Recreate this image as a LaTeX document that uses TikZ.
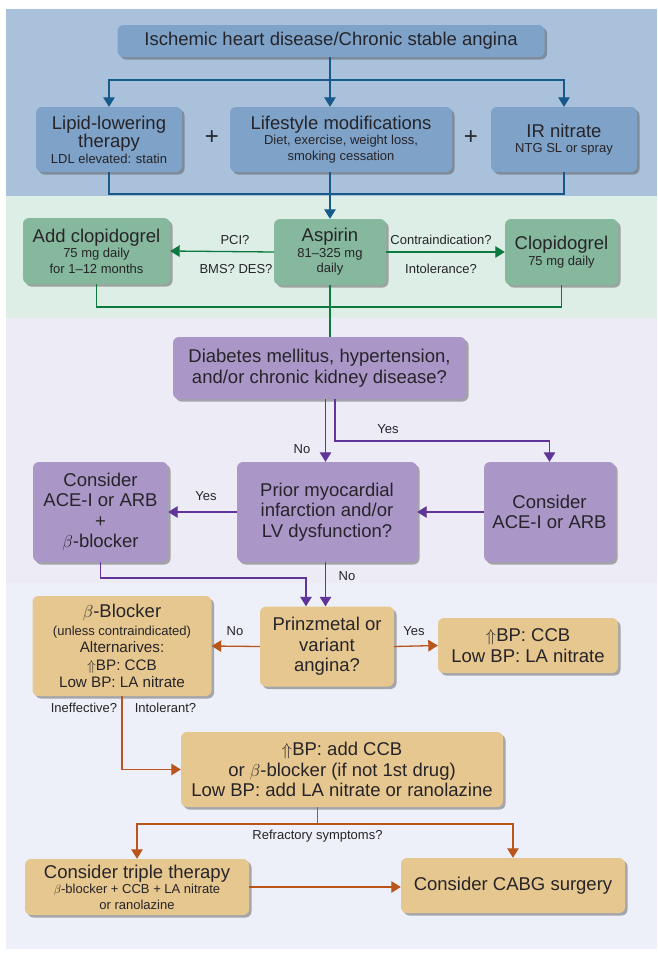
\documentclass[tikz,border=0pt]{standalone}
\usepackage{fontspec}
\setmainfont{Liberation Sans}
\usepackage{amsmath, amssymb}
\usetikzlibrary{shapes, arrows.meta, positioning, shadows}

\definecolor{bluepanel}{RGB}{169, 193, 219}
\definecolor{bluebox}{RGB}{126, 162, 200}
\definecolor{blueline}{RGB}{23, 89, 138}
\definecolor{greenpanel}{RGB}{220, 238, 230}
\definecolor{greenbox}{RGB}{134, 184, 157}
\definecolor{greenline}{RGB}{12, 122, 62}
\definecolor{purppanel}{RGB}{236, 235, 246}
\definecolor{purpbox}{RGB}{170, 151, 200}
\definecolor{purpline}{RGB}{96, 52, 152}
\definecolor{tanpanel}{RGB}{237, 240, 248}
\definecolor{tanbox}{RGB}{230, 199, 143}
\definecolor{orangeline}{RGB}{186, 84, 26}
\definecolor{inkgray}{RGB}{38, 36, 40}

\newcommand{\bigtxt}{\fontsize{18.5}{20.5}\selectfont}
\newcommand{\midtxt}{\fontsize{15.2}{17.4}\selectfont}
\newcommand{\smalltxt}{\fontsize{13}{15.5}\selectfont}

\begin{document}
\begin{tikzpicture}[x=1pt, y=-1pt,
    box/.style={rounded corners=6pt, align=center, text=inkgray, inner sep=2pt,
      drop shadow={shadow xshift=2.5pt, shadow yshift=-2.5pt, opacity=0.45, fill=black!70}},
    bbox/.style={box, fill=bluebox},
    gbox/.style={box, fill=greenbox},
    pbox/.style={box, fill=purpbox},
    tbox/.style={box, fill=tanbox},
    tip/.style={-{Triangle[length=9.5pt, width=11.5pt]}},
    bline/.style={blueline, line width=1.3pt},
    gline/.style={greenline, line width=1.3pt},
    pline/.style={purpline, line width=1.3pt},
    oline/.style={orangeline, line width=1.3pt},
    lab/.style={font=\smalltxt, text=inkgray, inner sep=1pt}]

  \useasboundingbox (0,0) rectangle (657,953);

  % Background bands
  \fill[bluepanel] (6,9) rectangle (657,196);
  \fill[greenpanel] (6,196) rectangle (657,318);
  \fill[purppanel] (6,318) rectangle (657,583);
  \fill[tanpanel] (6,583) rectangle (657,949);

  % Blue band: starting point and first measures
  \node[bbox, font=\bigtxt, minimum width=427, minimum height=32] (ihd) at (331,41)
    {Ischemic heart disease/Chronic stable angina};

  \node[bbox, font=\smalltxt, minimum width=146, minimum height=65] (lipid) at (109,139.5)
    {\bigtxt Lipid-lowering\\\bigtxt therapy\\LDL elevated: statin};
  \node[bbox, font=\smalltxt, minimum width=222, minimum height=65] (life) at (341,139.5)
    {\bigtxt Lifestyle modifications\\Diet, exercise, weight loss,\\smoking cessation};
  \node[bbox, font=\smalltxt, minimum width=146, minimum height=65] (irnit) at (564,139.5)
    {\bigtxt IR nitrate\\NTG SL or spray};

  \node[font=\fontsize{24}{24}\selectfont, text=inkgray] (plus1) at (212,138) {+};
  \node[font=\fontsize{24}{24}\selectfont, text=inkgray] (plus2) at (471,138) {+};

  \coordinate (split1) at (330,80);
  \coordinate (merge1) at (330,194);

  \draw[bline] (ihd.south -| split1) -- (split1);
  \draw[bline, tip] (split1) -| (lipid.north);
  \draw[bline, tip] (split1) -- (split1 |- life.north);
  \draw[bline, tip] (split1) -| (irnit.north);
  \draw[bline] (lipid.south) |- (merge1) -| (irnit.south);

  % Green band: antiplatelet
  \node[gbox, font=\smalltxt, minimum width=112, minimum height=66] (aspirin) at (330,252)
    {\bigtxt Aspirin\\81--325 mg\\daily};
  \node[gbox, font=\smalltxt, minimum width=147, minimum height=66] (addclop) at (96.5,251)
    {\bigtxt Add clopidogrel\\75 mg daily\\for 1--12 months};
  \node[gbox, font=\smalltxt, minimum width=113, minimum height=66] (clop) at (561.5,252)
    {\bigtxt Clopidogrel\\75 mg daily};

  \draw[bline, tip] (life.south -| aspirin) -- (aspirin.north);

  \draw[gline, tip] (aspirin.west) -- (addclop.east);
  \node[lab] (pci) at (235,240) {PCI?};
  \node[lab] (bms) at (236,269) {BMS? DES?};
  \draw[gline, tip] (aspirin.east) -- (clop.west);
  \node[lab] (contra) at (441,240) {Contraindication?};
  \node[lab] (intol) at (441,269) {Intolerance?};

  \coordinate (merge2) at (330,307);
  \draw[gline] (addclop.south) |- (merge2) -| (clop.south);

  % Purple band: comorbidities
  \node[pbox, font=\bigtxt, minimum width=293, minimum height=62] (diab) at (319.5,368)
    {Diabetes mellitus, hypertension,\\and/or chronic kidney disease?};

  \draw[gline] (aspirin.south) -- (aspirin.south |- diab.north);

  \node[pbox, font=\bigtxt, minimum width=135, minimum height=100] (aceb) at (100.5,512)
    {Consider\\ACE-I or ARB\\+\\$\beta$-blocker};
  \node[pbox, font=\bigtxt, minimum width=180, minimum height=100] (priormi) at (327,512)
    {Prior myocardial\\infarction and/or\\LV dysfunction?};
  \node[pbox, font=\bigtxt, minimum width=131, minimum height=100] (acer) at (549.5,512)
    {Consider\\ACE-I or ARB};

  \coordinate (yes1) at (335,441);
  \draw[pline, tip] (diab.south -| 325.5,0) -- (priormi.north -| 325.5,0);
  \node[lab] (no1) at (302,449) {No};
  \draw[pline, tip] (diab.south -| yes1) -- (yes1) -| (acer.north);
  \node[lab] (yes1lab) at (388,429) {Yes};

  \draw[pline, tip] (acer.west) -- (priormi.east);
  \draw[pline, tip] (priormi.west) -- (aceb.east);
  \node[lab] (yes2) at (206,496) {Yes};

  % Tan band: antianginal therapy
  \node[tbox, font=\bigtxt, minimum width=134, minimum height=80] (prinz) at (327,646.5)
    {Prinzmetal or\\variant\\angina?};
  \node[tbox, font=\midtxt, minimum width=179, minimum height=100] (beta) at (122,646)
    {\bigtxt $\beta$-Blocker\\\smalltxt (unless contraindicated)\\Alternarives:\\$\Uparrow$BP: CCB\\Low BP: LA nitrate};
  \node[tbox, font=\bigtxt, minimum width=180, minimum height=55] (hibp) at (528,645.5)
    {$\Uparrow$BP: CCB\\Low BP: LA nitrate};

  \coordinate (join3) at (306,578);
  \draw[pline, tip] (aceb.south) |- (join3) -- (join3 |- prinz.north);
  \draw[pline, tip] (priormi.south -| 325.5,0) -- (prinz.north -| 325.5,0);
  \node[lab] (no2) at (347,576) {No};

  \draw[oline, tip] (prinz.west) -- (beta.east);
  \node[lab] (no3) at (235,631) {No};
  \draw[oline, tip] (prinz.east) -- (hibp.west);
  \node[lab] (yes3) at (414,631) {Yes};

  \node[tbox, font=\bigtxt, minimum width=322, minimum height=75] (addccb) at (342,769.5)
    {$\Uparrow$BP: add CCB\\or $\beta$-blocker (if not 1st drug)\\Low BP: add LA nitrate or ranolazine};

  \draw[oline, tip] (beta.south) |- (addccb.west);
  \node[lab] (ineff) at (84,708) {Ineffective?};
  \node[lab] (intolr) at (165.5,708) {Intolerant?};

  \node[tbox, font=\smalltxt, minimum width=224, minimum height=56] (triple) at (137,887)
    {\bigtxt Consider triple therapy\\$\beta$-blocker + CCB + LA nitrate\\or ranolazine};
  \node[tbox, font=\bigtxt, minimum width=224, minimum height=55] (cabg) at (513,885.5)
    {Consider CABG surgery};

  \coordinate (split4) at (317.5,824);
  \draw[oline] (addccb.south -| split4) -- (split4);
  \draw[oline, tip] (split4) -| (triple.north);
  \draw[oline, tip] (split4) -| (cabg.north);
  \node[lab] (refr) at (317.5,836) {Refractory symptoms?};

  \draw[oline, tip] (triple.east) -- (triple.east -| cabg.west);
\end{tikzpicture}
\end{document}
